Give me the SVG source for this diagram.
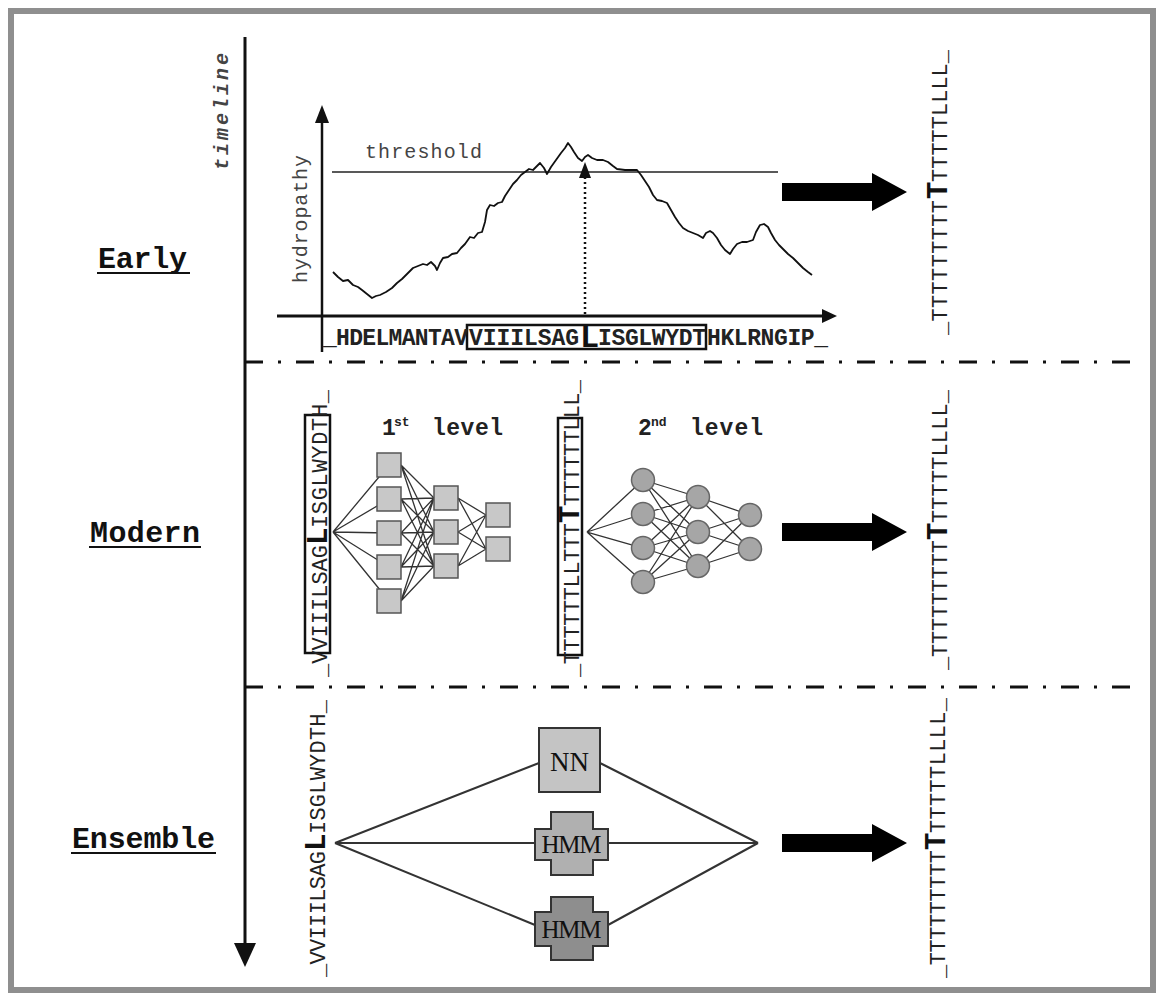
<svg xmlns="http://www.w3.org/2000/svg" width="1160" height="996" viewBox="0 0 1160 996">
<style>
  .seq { font-family: "Liberation Mono", "Courier New", monospace; font-size: 23px; font-weight: bold; fill: #222; }
  .vseq { font-family: "Liberation Mono", "Courier New", monospace; font-size: 22px; fill: #222; }
  .big { font-family: "Liberation Mono", "Courier New", monospace; font-size: 32px; font-weight: bold; fill: #111; }
  .vbig { font-family: "Liberation Mono", "Courier New", monospace; font-size: 29px; font-weight: bold; fill: #111; }
  .lbl { font-family: "Liberation Mono", "Courier New", monospace; font-size: 30px; font-weight: bold; fill: #111; }
  .lvl { font-family: "Liberation Mono", "Courier New", monospace; font-size: 23px; font-weight: bold; fill: #222; }
  .sup { font-family: "Liberation Mono", "Courier New", monospace; font-size: 13px; font-weight: bold; fill: #222; }
  .axt { font-family: "Liberation Mono", "Courier New", monospace; font-size: 20px; fill: #444; }
  .mdl { font-family: "Liberation Serif", "Times New Roman", serif; fill: #111; }
  .ul { stroke: #111; stroke-width: 2; }
  .sep { stroke: #111; stroke-width: 3; stroke-dasharray: 18 15 3 15; fill: none; }
  .net { stroke: #333; stroke-width: 1.3; fill: none; }
  .ens { stroke: #333; stroke-width: 2; fill: none; }
  .sq { fill: #c8c8c8; stroke: #555; stroke-width: 1.5; }
  .ci { fill: #a6a6a6; stroke: #666; stroke-width: 1.5; }
  .box { fill: none; stroke: #111; stroke-width: 2.5; }
  .bigarrow { fill: #000; }
</style>
<rect x="0" y="0" width="1160" height="996" fill="#fff"/>
<rect id="frame" x="11" y="11" width="1142" height="979" fill="none" stroke="#8f8f8f" stroke-width="6"/>

<g id="timeline">
  <line x1="245" y1="37" x2="245" y2="948" stroke="#111" stroke-width="3"/>
  <polygon points="234,943 256,943 245,967" fill="#111"/>
  <g transform="translate(228,170) rotate(-90)">
    <text class="axt" x="0" y="0" textLength="117" font-style="italic" font-weight="bold" fill="#555">timeline</text>
  </g>
</g>

<g id="separators">
  <line x1="245" y1="362" x2="1145" y2="362" class="sep"/>
  <line x1="245" y1="687" x2="1145" y2="687" class="sep"/>
</g>

<g id="label-early">
  <text class="lbl" x="98" y="268" textLength="89">Early</text>
  <line class="ul" x1="97" y1="273" x2="190" y2="273"/>
</g>
<g id="label-modern">
  <text class="lbl" x="90" y="542" textLength="110">Modern</text>
  <line class="ul" x1="89" y1="547" x2="201" y2="547"/>
</g>
<g id="label-ensemble">
  <text class="lbl" x="72" y="848" textLength="143">Ensemble</text>
  <line class="ul" x1="71" y1="853" x2="216" y2="853"/>
</g>

<g id="hydropathy-plot">
  <line x1="322" y1="352" x2="322" y2="120" stroke="#111" stroke-width="2.5"/>
  <polygon points="315,123 329,123 322,105" fill="#111"/>
  <line x1="277" y1="316" x2="824" y2="316" stroke="#111" stroke-width="3"/>
  <polygon points="822,309 822,323 837,316" fill="#111"/>
  <line x1="332" y1="172" x2="778" y2="172" stroke="#222" stroke-width="1.5"/>
  <text class="axt" x="365" y="158" textLength="117">threshold</text>
  <g transform="translate(307,283) rotate(-90)">
    <text class="axt" x="0" y="0" textLength="128">hydropathy</text>
  </g>
  <polyline fill="none" stroke="#111" stroke-width="1.8" stroke-linejoin="round" points="333,272 338,277 343,281 348,280 353,285 358,287 362,290 367,294 372,298 376,296 380,295 386,292 392,288 397,283 402,279 407,274 413,268 418,266 423,264 427,265 431,262 435,266 437,270 440,263 443,258 448,257 452,254 457,253 461,248 465,244 470,237 474,238 478,233 482,232 485,222 487,210 490,205 494,206 498,203 502,202 505,196 509,190 513,184 517,180 521,175 525,172 529,169 533,170 537,166 540,163 544,168 547,174 551,167 556,160 561,153 565,148 568,143 571,147 574,152 578,158 582,161 585,157 588,155 592,158 597,160 603,160 608,162 613,166 617,169 625,170 637,170 641,175 645,181 649,187 653,195 657,200 662,201 667,203 671,210 675,217 679,223 683,228 688,231 693,233 698,235 703,238 706,233 710,231 713,233 717,238 721,245 725,250 730,254 733,249 737,244 742,242 747,242 753,240 756,232 760,225 764,224 768,227 771,233 775,240 779,245 783,249 788,254 793,258 798,263 803,268 808,272 812,275"/>
  <line x1="585" y1="314" x2="585" y2="177" stroke="#111" stroke-width="2.5" stroke-dasharray="2 3"/>
  <polygon points="579,178 591,178 585,162" fill="#111"/>
</g>

<g id="early-sequence">
  <rect class="box" x="467" y="325" width="239" height="24"/>
  <text class="seq" x="323" y="345" textLength="145">_HDELMANTAV</text>
  <text class="seq" x="469" y="345" textLength="110">VIIILSAG</text>
  <text class="big" x="580" y="347" textLength="18">L</text>
  <text class="seq" x="598" y="345" textLength="108">ISGLWYDT</text>
  <text class="seq" x="707" y="345" textLength="121">HKLRNGIP_</text>
</g>

<g id="early-output" transform="translate(947,335) rotate(-90)">
  <text class="vseq" x="0" y="0" textLength="135">_TTTTTTTTT</text>
  <text class="vbig" x="136" y="0" textLength="16">T</text>
  <text class="vseq" x="153" y="0" textLength="132">TTTTTLLLL_</text>
</g>

<g id="modern-input">
  <rect class="box" x="305" y="415" width="25" height="238"/>
  <g transform="translate(327,677) rotate(-90)">
    <text class="vseq" x="0" y="0" textLength="132">_VVIIILSAG</text>
    <text class="vbig" x="132" y="0" textLength="16">L</text>
    <text class="vseq" x="149" y="0" textLength="138">ISGLWYDTH_</text>
  </g>
</g>

<g id="modern-intermediate">
  <rect class="box" x="558" y="418" width="24" height="237"/>
  <g transform="translate(579,677) rotate(-90)">
    <text class="vseq" x="0" y="0" textLength="154">_TTTTTTLLTTT</text>
    <text class="vbig" x="154" y="0" textLength="16">T</text>
    <text class="vseq" x="171" y="0" textLength="126">TTTTTTLLL_</text>
  </g>
</g>

<g id="modern-output" transform="translate(947,670) rotate(-90)">
  <text class="vseq" x="0" y="0" textLength="130">_TTTTTTTTT</text>
  <text class="vbig" x="130" y="0" textLength="16">T</text>
  <text class="vseq" x="147" y="0" textLength="133">TTTTTLLLL_</text>
</g>

<g id="ensemble-input" transform="translate(325,977) rotate(-90)">
  <text class="vseq" x="0" y="0" textLength="126">_VVIIILSAG</text>
  <text class="vbig" x="126" y="0" textLength="16">L</text>
  <text class="vseq" x="143" y="0" textLength="134">ISGLWYDTH_</text>
</g>

<g id="ensemble-output" transform="translate(945,978) rotate(-90)">
  <text class="vseq" x="0" y="0" textLength="128">_TTTTTTTTT</text>
  <text class="vbig" x="128" y="0" textLength="16">T</text>
  <text class="vseq" x="145" y="0" textLength="135">TTTTTLLLL_</text>
</g>

<g id="connectors">
  <path class="net" d="M333,532 L389,465 M333,532 L389,499 M333,532 L389,533 M333,532 L389,567 M333,532 L389,601
    M401,465 L434,498 M401,465 L434,532 M401,465 L434,566
    M401,499 L434,498 M401,499 L434,532 M401,499 L434,566
    M401,533 L434,498 M401,533 L434,532 M401,533 L434,566
    M401,567 L434,498 M401,567 L434,532 M401,567 L434,566
    M401,601 L434,498 M401,601 L434,532 M401,601 L434,566
    M458,498 L486,515 M458,498 L486,549 M458,532 L486,515 M458,532 L486,549 M458,566 L486,515 M458,566 L486,549"/>
  <path class="net" d="M587,532 L643,480 M587,532 L643,514 M587,532 L643,548 M587,532 L643,582
    M643,480 L698,497 M643,480 L698,532 M643,480 L698,566
    M643,514 L698,497 M643,514 L698,532 M643,514 L698,566
    M643,548 L698,497 M643,548 L698,532 M643,548 L698,566
    M643,582 L698,497 M643,582 L698,532 M643,582 L698,566
    M698,497 L750,515 M698,497 L750,549 M698,532 L750,515 M698,532 L750,549 M698,566 L750,515 M698,566 L750,549"/>
  <path class="ens" d="M335,843 L539,763 M335,843 L535,843 M335,843 L535,925 M758,843 L600,763 M758,843 L608,843 M758,843 L608,925"/>
  <polygon class="bigarrow" points="782,183 872,183 872,173 907,192 872,211 872,201 782,201"/>
  <polygon class="bigarrow" points="782,523 872,523 872,513 907,532 872,551 872,541 782,541"/>
  <polygon class="bigarrow" points="782,834 872,834 872,824 907,843 872,862 872,852 782,852"/>
</g>

<g id="level1-label">
  <text class="lvl" x="382" y="435">1</text>
  <text class="sup" x="394" y="426">st</text>
  <text class="lvl" x="432" y="435" textLength="71">level</text>
</g>
<g id="level2-label">
  <text class="lvl" x="638" y="435">2</text>
  <text class="sup" x="651" y="426">nd</text>
  <text class="lvl" x="690" y="435" textLength="73">level</text>
</g>

<g id="nn1">
  <rect class="sq" x="377" y="453" width="24" height="24"/>
  <rect class="sq" x="377" y="487" width="24" height="24"/>
  <rect class="sq" x="377" y="521" width="24" height="24"/>
  <rect class="sq" x="377" y="555" width="24" height="24"/>
  <rect class="sq" x="377" y="589" width="24" height="24"/>
  <rect class="sq" x="434" y="486" width="24" height="24"/>
  <rect class="sq" x="434" y="520" width="24" height="24"/>
  <rect class="sq" x="434" y="554" width="24" height="24"/>
  <rect class="sq" x="486" y="503" width="24" height="24"/>
  <rect class="sq" x="486" y="537" width="24" height="24"/>
</g>

<g id="nn2">
  <circle class="ci" cx="643" cy="480" r="11.5"/>
  <circle class="ci" cx="643" cy="514" r="11.5"/>
  <circle class="ci" cx="643" cy="548" r="11.5"/>
  <circle class="ci" cx="643" cy="582" r="11.5"/>
  <circle class="ci" cx="698" cy="497" r="11.5"/>
  <circle class="ci" cx="698" cy="532" r="11.5"/>
  <circle class="ci" cx="698" cy="566" r="11.5"/>
  <circle class="ci" cx="750" cy="515" r="11.5"/>
  <circle class="ci" cx="750" cy="549" r="11.5"/>
</g>

<g id="ens-nn">
  <rect x="539" y="728" width="61" height="64" fill="#c4c4c4" stroke="#333" stroke-width="2"/>
  <text class="mdl" x="569.5" y="771" font-size="27" text-anchor="middle">NN</text>
</g>
<g id="ens-hmm1">
  <polygon points="551,812 593,812 593,829 608,829 608,860 593,860 593,875 551,875 551,860 535,860 535,829 551,829" fill="#b0b0b0" stroke="#333" stroke-width="2"/>
  <text class="mdl" x="571.5" y="853" font-size="25" text-anchor="middle" textLength="60">HMM</text>
</g>
<g id="ens-hmm2">
  <polygon points="551,897 593,897 593,912 608,912 608,946 593,946 593,960 551,960 551,946 535,946 535,912 551,912" fill="#8e8e8e" stroke="#333" stroke-width="2"/>
  <text class="mdl" x="571.5" y="938" font-size="25" text-anchor="middle" textLength="60">HMM</text>
</g>
</svg>
